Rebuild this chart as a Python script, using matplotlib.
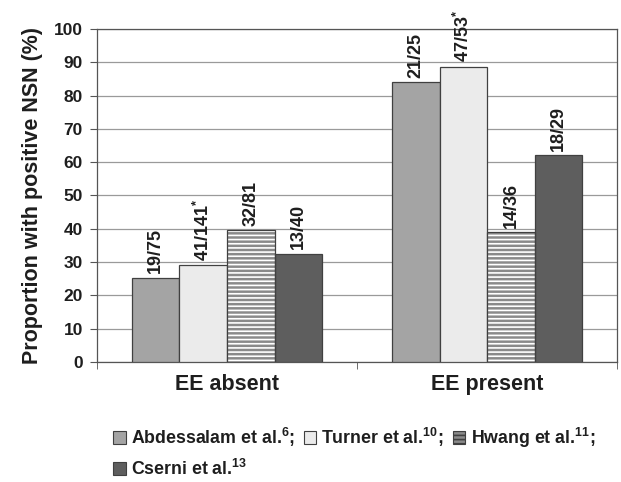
import matplotlib
matplotlib.use('Agg')
import matplotlib.pyplot as plt
import matplotlib.patches as mpatches
import numpy as np

plt.rcParams['font.family'] = ['Liberation Sans', 'DejaVu Sans']
plt.rcParams['font.weight'] = 'bold'
plt.rcParams['mathtext.fontset'] = 'custom'
plt.rcParams['mathtext.rm'] = 'Liberation Sans:bold'
plt.rcParams['mathtext.bf'] = 'Liberation Sans:bold'
plt.rcParams['mathtext.default'] = 'bf'
plt.rcParams['hatch.linewidth'] = 1.2

# data
groups = ['EE absent', 'EE present']
studies = ['Abdessalam et al.$^{6}$;', 'Turner et al.$^{10}$;',
           'Hwang et al.$^{11}$;', 'Cserni et al.$^{13}$']
values = {
    'Abdessalam': [25.3, 84.0],
    'Turner': [29.1, 88.7],
    'Hwang': [39.5, 38.9],
    'Cserni': [32.5, 62.1],
}
bar_labels = {
    'Abdessalam': ['19/75', '21/25'],
    'Turner': ['41/141$^{*}$', '47/53$^{*}$'],
    'Hwang': ['32/81', '14/36'],
    'Cserni': ['13/40', '18/29'],
}
colors = ['#a4a4a4', '#ebebeb', '#8a8a8a', '#5e5e5e']
hatches = [None, None, '----', None]

fig = plt.figure(figsize=(6.21, 4.82), dpi=100)
ax = fig.add_axes([0.156, 0.249, 0.838, 0.691])

x = np.arange(len(groups))
w = 0.183
txt = '#1e1e1e'

for i, key in enumerate(values):
    pos = x + (i - 1.5) * w
    if hatches[i]:
        ax.bar(pos, values[key], w, color=colors[i], edgecolor='white',
               hatch=hatches[i], linewidth=0, zorder=3)
        ax.bar(pos, values[key], w, facecolor='none', edgecolor='#404040',
               linewidth=0.9, zorder=4)
    else:
        ax.bar(pos, values[key], w, color=colors[i], edgecolor='#404040',
               linewidth=0.9, zorder=3)
    for p, v, lab in zip(pos, values[key], bar_labels[key]):
        ax.text(p, v + 1.3, lab, rotation=90, ha='center', va='bottom',
                fontsize=13, fontweight='bold', color=txt)

# legend proxies (hatch drawn white)
plt.rcParams['hatch.color'] = 'white'
proxies = [mpatches.Patch(facecolor=colors[i], edgecolor='#404040',
                          linewidth=0.8, hatch=hatches[i])
           for i in range(4)]
# legend fills column by column: order so rows read A, T, H / C
order = [0, 3, 1, 2]

ax.set_xlim(-0.5, 1.5)
ax.set_ylim(0, 100)
ax.set_yticks(np.arange(0, 101, 10))
ax.yaxis.grid(True, color='#9a9a9a', linewidth=0.9, zorder=0)
ax.set_axisbelow(True)
ax.set_xticks(x)
ax.set_xticklabels(groups, fontsize=15.5, fontweight='bold', color=txt)
ax.set_xticks([-0.5, 0.5, 1.5], minor=True)
ax.tick_params(axis='x', which='major', length=0, pad=9)
ax.tick_params(axis='x', which='minor', length=5, color='#555555')
ax.tick_params(axis='y', length=5, color='#555555', labelsize=12.5,
               labelcolor=txt, pad=5)
for s in ax.spines.values():
    s.set_color('#555555')
    s.set_linewidth(0.9)
for lab in ax.get_yticklabels():
    lab.set_fontweight('bold')
ax.set_ylabel('Proportion with positive NSN (%)', fontsize=15.5,
              fontweight='bold', color=txt, labelpad=8)

fig.legend([proxies[k] for k in order], [studies[k] for k in order],
           loc='upper left', bbox_to_anchor=(0.168, 0.135),
           ncol=3, frameon=False, fontsize=12.8, handlelength=0.7,
           handleheight=0.7, handletextpad=0.3, columnspacing=0.5,
           labelspacing=0.55, borderpad=0, labelcolor=txt)

fig.savefig('out.png', dpi=100)
